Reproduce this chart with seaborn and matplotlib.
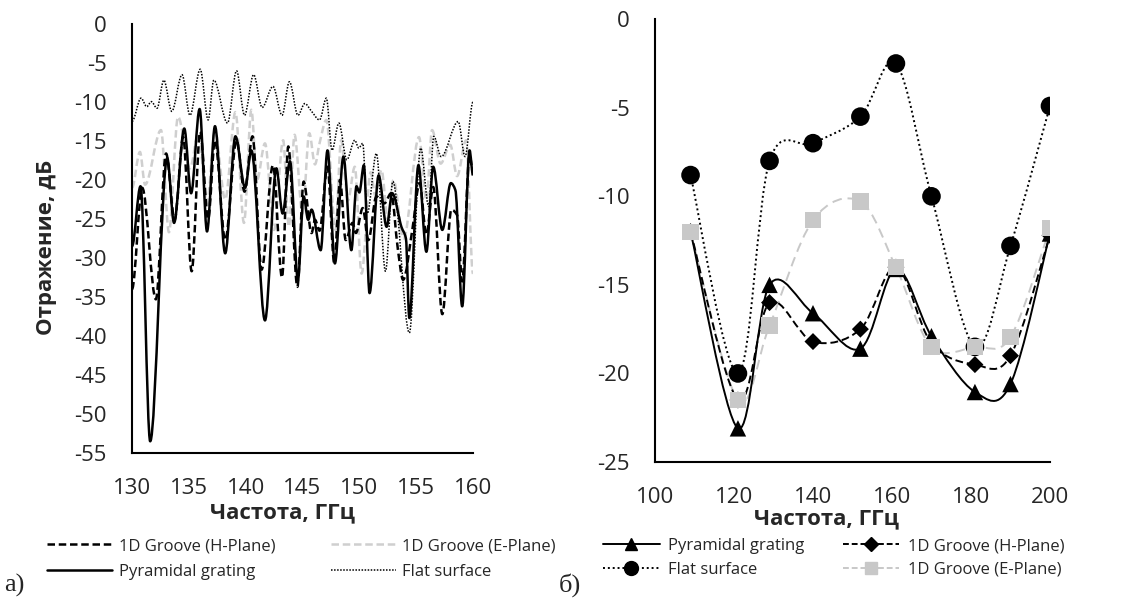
import numpy as np
import pandas as pd
import matplotlib
matplotlib.use("Agg")
import matplotlib.pyplot as plt
import seaborn as sns
from matplotlib.path import Path
from matplotlib.patches import PathPatch
from matplotlib.lines import Line2D

# ---- panel a): measured reflection, 130-160 GHz (extrema read off the plot)
pyr_f = [130.0, 130.75, 131.6, 133.1, 133.7, 134.6, 135.2, 135.95, 136.6, 137.3, 138.2, 139.1,
         139.95, 140.5, 141.7, 142.7, 143.25, 143.9, 144.6, 145.1, 145.5, 145.8, 146.6, 147.2,
         147.85, 148.6, 149.3, 149.75, 150.0, 150.4, 150.9, 151.7, 152.4, 152.9, 153.7, 154.1,
         154.4, 155.2, 155.9, 156.5, 157.3, 158.05, 158.45, 159.05, 159.7, 160.0]
pyr_db = [-28.5, -20.8, -53.5, -17.2, -25.5, -13.4, -21.7, -10.9, -26.6, -13.1, -29.4, -14.4,
          -21.0, -16.2, -38.0, -18.5, -24.3, -17.6, -32.8, -22.1, -25.1, -23.8, -29.0, -16.2,
          -30.7, -17.0, -29.0, -20.8, -21.6, -18.1, -34.5, -19.4, -26.0, -21.7, -26.0, -27.5,
          -37.7, -18.1, -29.2, -18.3, -26.4, -20.4, -21.3, -36.2, -16.2, -19.4]

hpl_f = [130.0, 130.9, 132.1, 133.0, 133.75, 134.5, 135.25, 136.0, 136.7, 137.3, 138.2, 139.2,
         139.9, 140.6, 141.4, 142.4, 143.2, 143.75, 144.55, 145.1, 145.8, 146.1, 146.5, 147.2,
         147.8, 148.3, 148.8, 149.4, 149.7, 150.3, 150.8, 151.5, 152.2, 152.8, 153.4, 153.85,
         154.7, 155.3, 155.9, 156.5, 157.3, 158.1, 158.6, 159.05, 159.7, 160.0]
hpl_db = [-34.0, -21.0, -35.3, -16.6, -25.1, -14.5, -31.7, -13.8, -25.0, -14.9, -27.7, -14.9,
          -21.5, -14.4, -31.5, -18.1, -32.5, -15.7, -33.7, -20.2, -26.8, -25.1, -26.5, -18.3,
          -30.7, -20.0, -27.7, -25.5, -26.8, -23.6, -27.7, -22.1, -23.0, -21.7, -29.0, -32.8,
          -26.0, -20.4, -27.0, -20.9, -37.2, -23.8, -24.5, -33.0, -16.8, -19.0]

epl_f = [130.0, 130.7, 131.15, 132.55, 133.25, 134.05, 135.1, 135.85, 136.6, 137.3, 138.2, 139.1,
         139.85, 140.5, 141.0, 141.7, 142.5, 143.3, 143.8, 144.3, 145.0, 145.6, 146.1, 146.5,
         147.1, 147.9, 148.4, 149.0, 149.6, 150.2, 151.0, 151.4, 151.95, 152.5, 153.0, 153.9,
         155.25, 155.9, 156.4, 157.15, 158.0, 158.6, 159.4, 160.0]
epl_db = [-21.0, -16.4, -20.6, -13.6, -26.7, -11.9, -18.5, -14.0, -23.0, -13.8, -22.5, -11.3,
          -25.5, -11.0, -20.0, -15.3, -26.4, -14.9, -26.0, -14.2, -24.3, -14.0, -18.0, -15.3,
          -12.3, -26.4, -14.9, -22.6, -18.3, -32.0, -19.0, -22.0, -18.7, -25.0, -20.0, -27.5,
          -14.5, -22.6, -13.6, -17.9, -15.5, -19.5, -14.9, -32.0]

flat_f = [130.0, 130.8, 131.3, 131.7, 132.2, 132.8, 133.5, 134.4, 135.1, 136.0, 136.7, 137.2,
          138.4, 139.2, 139.9, 140.7, 141.45, 142.4, 143.2, 143.85, 144.6, 145.2, 145.8, 146.5,
          147.1, 147.6, 148.2, 148.9, 149.6, 149.95, 150.3, 150.7, 151.5, 152.3, 152.95, 154.4,
          155.4, 156.1, 156.55, 157.2, 158.7, 159.3, 160.0]
flat_db = [-12.5, -9.5, -10.6, -9.95, -10.8, -7.2, -11.2, -6.5, -11.7, -5.8, -12.3, -7.2,
           -12.7, -6.0, -11.7, -6.5, -10.7, -8.0, -11.7, -7.4, -11.7, -10.2, -11.2, -12.3,
           -9.5, -16.2, -12.7, -17.4, -14.9, -15.9, -15.3, -24.3, -16.6, -31.7, -20.2, -39.6,
           -15.9, -23.4, -14.4, -17.0, -12.5, -17.0, -10.0]

# ---- panel б): simulated points, 100-200 GHz
sim_f = [109, 121, 129, 140, 152, 161, 170, 181, 190, 200]
sim_pyr = [-12.0, -23.1, -15.0, -16.6, -18.6, -14.1, -17.9, -21.05, -20.6, -12.1]
sim_hpl = [-12.0, -21.5, -16.0, -18.2, -17.5, -14.0, -18.3, -19.5, -19.0, -12.2]
sim_flat = [-8.8, -20.0, -8.0, -7.0, -5.5, -2.5, -10.0, -18.5, -12.8, -4.9]
sim_epl = [-12.0, -21.5, -17.3, -11.35, -10.3, -14.0, -18.5, -18.5, -17.95, -11.8]

GRAY_A = "#cfcfcf"
GRAY_B = "#c8c8c8"


def pchip_path(x, y):
    # monotone cubic (flat at extrema), drawn as bezier segments
    x = np.asarray(x, float); y = np.asarray(y, float)
    h = np.diff(x); d = np.diff(y) / h
    m = np.zeros_like(y)
    for i in range(1, len(y) - 1):
        if d[i - 1] * d[i] > 0:
            m[i] = 2.0 / (1.0 / d[i - 1] + 1.0 / d[i])
    verts = [(x[0], y[0])]
    codes = [Path.MOVETO]
    for i in range(len(x) - 1):
        verts += [(x[i] + h[i] / 3, y[i] + m[i] * h[i] / 3),
                  (x[i + 1] - h[i] / 3, y[i + 1] - m[i + 1] * h[i] / 3),
                  (x[i + 1], y[i + 1])]
        codes += [Path.CURVE4] * 3
    return Path(verts, codes)


def smooth_path(x, y):
    # excel-like smoothed line (catmull-rom as bezier)
    p = np.column_stack([x, y]).astype(float)
    p = np.vstack([p[0], p, p[-1]])
    verts = [tuple(p[1])]
    codes = [Path.MOVETO]
    for i in range(1, len(p) - 2):
        c1 = p[i] + (p[i + 1] - p[i - 1]) / 6
        c2 = p[i + 1] - (p[i + 2] - p[i]) / 6
        verts += [tuple(c1), tuple(c2), tuple(p[i + 1])]
        codes += [Path.CURVE4] * 3
    return Path(verts, codes)


def draw(ax, path, **kw):
    ax.add_patch(PathPatch(path, fill=False, capstyle="butt", joinstyle="round", **kw))


sns.set_style("white")
plt.rcParams["font.family"] = ["Open Sans", "DejaVu Sans"]
plt.rcParams["axes.unicode_minus"] = False

fig = plt.figure(figsize=(11.34, 6.0), dpi=100)
ax1 = fig.add_axes([0.1164, 0.245, 0.3007, 0.715])
ax2 = fig.add_axes([0.5776, 0.23, 0.3483, 0.738])

# a)
draw(ax1, pchip_path(epl_f, epl_db), edgecolor=GRAY_A, lw=1.8, linestyle=(0, (3, 1.5)), zorder=2)
draw(ax1, pchip_path(flat_f, flat_db), edgecolor="black", lw=1.1, linestyle=(0, (1, 1)), zorder=3)
draw(ax1, pchip_path(hpl_f, hpl_db), edgecolor="black", lw=1.8, linestyle=(0, (3, 1.5)), zorder=4)
draw(ax1, pchip_path(pyr_f, pyr_db), edgecolor="black", lw=1.8, zorder=5)
ax1.set_xlim(130, 160)
ax1.set_ylim(-55, 0)
ax1.set_xticks(range(130, 161, 5))
ax1.set_yticks(range(-55, 1, 5))

# б)
draw(ax2, smooth_path(sim_f, sim_epl), edgecolor=GRAY_B, lw=1.4, linestyle=(0, (5, 3)), zorder=2)
draw(ax2, smooth_path(sim_f, sim_flat), edgecolor="black", lw=1.4, linestyle=(0, (1, 1.5)), zorder=2)
draw(ax2, smooth_path(sim_f, sim_hpl), edgecolor="black", lw=1.4, linestyle=(0, (4, 2)), zorder=2)
draw(ax2, smooth_path(sim_f, sim_pyr), edgecolor="black", lw=1.4, zorder=2)
sns.scatterplot(x=sim_f, y=sim_flat, marker="o", s=180, color="black", edgecolor="none", ax=ax2, zorder=4)
sns.scatterplot(x=sim_f, y=sim_hpl, marker="D", s=75, color="black", edgecolor="none", ax=ax2, zorder=4)
sns.scatterplot(x=sim_f, y=sim_pyr, marker="^", s=140, color="black", edgecolor="none", ax=ax2, zorder=4)
sns.scatterplot(x=sim_f, y=sim_epl, marker="s", s=140, color=GRAY_B, edgecolor="none", ax=ax2, zorder=5)
ax2.set_xlim(100, 200)
ax2.set_ylim(-25, 0)
ax2.set_xticks(range(100, 201, 20))
ax2.set_yticks(range(-25, 1, 5))

for ax in (ax1, ax2):
    sns.despine(ax=ax)
    for s in ("left", "bottom"):
        ax.spines[s].set_color("black")
        ax.spines[s].set_linewidth(1.5)
    ax.tick_params(direction="in", length=6, width=1.3, color="black",
                   labelsize=16, pad=18)
    ax.set_xlabel("Частота, ГГц", fontsize=16, fontweight="bold")

ax1.xaxis.set_label_coords(0.44, -0.115)
ax2.xaxis.set_label_coords(0.435, -0.105)
ax1.set_ylabel("Отражение, дБ", fontsize=16, fontweight="bold")
ax1.yaxis.set_label_coords(-0.22, 0.48)

# legends
h_a = [Line2D([], [], color="black", lw=1.8, linestyle=(0, (3, 1.5))),
       Line2D([], [], color="black", lw=1.8),
       Line2D([], [], color=GRAY_A, lw=1.8, linestyle=(0, (3, 1.5))),
       Line2D([], [], color="black", lw=1.1, linestyle=(0, (1, 1)))]
l_a = ["1D Groove (H-Plane)", "Pyramidal grating", "1D Groove (E-Plane)", "Flat surface"]
fig.legend(h_a, l_a, ncol=2, loc="upper center", bbox_to_anchor=(0.266, 0.128),
           frameon=False, fontsize=12,
           handlelength=3.9, columnspacing=3.3, labelspacing=0.6, handletextpad=0.4)

h_b = [Line2D([], [], color="black", lw=1.4, marker="^", markersize=9),
       Line2D([], [], color="black", lw=1.4, linestyle=(0, (1, 1.5)), marker="o", markersize=10),
       Line2D([], [], color="black", lw=1.4, linestyle=(0, (3, 1.5)), marker="D", markersize=7),
       Line2D([], [], color=GRAY_B, lw=1.4, linestyle=(0, (3, 1.5)), marker="s", markersize=9)]
l_b = ["Pyramidal grating", "Flat surface", "1D Groove (H-Plane)", "1D Groove (E-Plane)"]
fig.legend(h_b, l_b, ncol=2, loc="upper center", bbox_to_anchor=(0.735, 0.128),
           frameon=False, fontsize=12,
           handlelength=3.4, columnspacing=2.3, labelspacing=0.45, handletextpad=0.5)

fig.text(0.004, 0.005, "а)", family="Liberation Serif", fontsize=19, va="bottom")
fig.text(0.493, 0.005, "б)", family="Liberation Serif", fontsize=19, va="bottom")

fig.savefig("out.png", dpi=100)
